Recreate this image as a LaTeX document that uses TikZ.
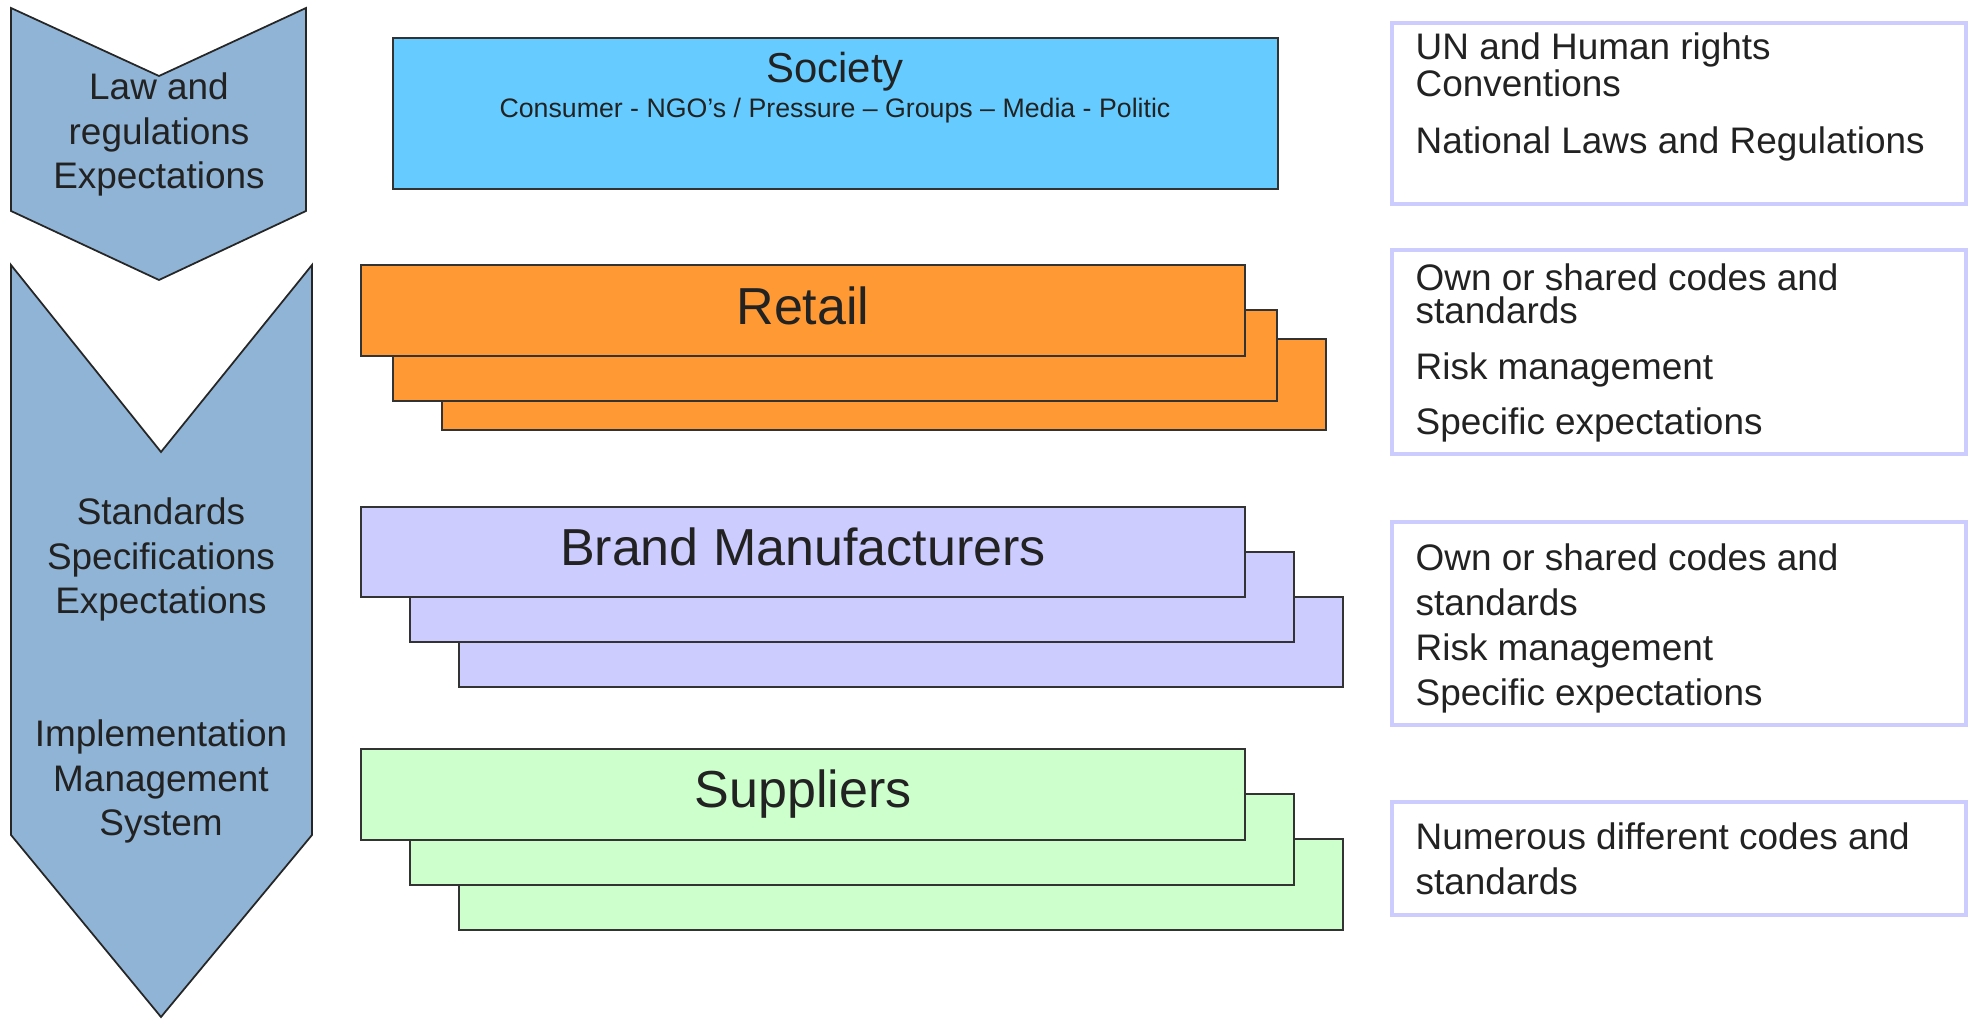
\documentclass[tikz,border=0pt]{standalone}
\usepackage{fontspec}
\setmainfont{Liberation Sans}
\definecolor{chevblue}{RGB}{143,180,214}
\definecolor{societyblue}{RGB}{102,204,255}
\definecolor{retailorange}{RGB}{255,153,51}
\definecolor{brandlilac}{RGB}{204,204,255}
\definecolor{suppliergreen}{RGB}{204,255,204}
\definecolor{textgray}{RGB}{34,34,34}
\tikzset{
    chevron/.style={fill=chevblue,draw=black!85,line width=0.5pt},
    layerbox/.style={draw=black!80,line width=0.6pt},
    notebox/.style={draw=brandlilac,line width=1.3pt},
    chevtext/.style={align=center,anchor=base,inner sep=0pt,text=textgray,
        font=\fontsize{10.5}{12.7}\selectfont},
    titletext/.style={anchor=base,inner sep=0pt,text=textgray,
        font=\fontsize{14.8}{17}\selectfont},
    notetext/.style={align=left,anchor=base west,inner sep=0pt,text=textgray,
        font=\fontsize{10.5}{12.8}\selectfont},
}

\begin{document}
\begin{tikzpicture}[x=0.01cm,y=-0.01cm]
        \useasboundingbox (0,0) rectangle (1971,1019);
        % Chevrons on the left (multi-line texts sit on their last baseline)
        \draw[chevron] (11,8) -- (159,76) -- (306,8) -- (306,211) -- (159,280) -- (11,211) -- cycle;
        \draw[chevron] (11,265) -- (161,452) -- (312,265) -- (312,835) -- (161,1017) -- (11,835) -- cycle;
        \node[chevtext] (law) at (159,189) {Law and\\regulations\\Expectations};
        \node[chevtext] (standards) at (161,614) {Standards\\Specifications\\Expectations};
        \node[chevtext] (implementation) at (161,836) {Implementation\\Management\\System};
        % Society
        \draw[layerbox,fill=societyblue] (393,38) rectangle (1278,189);
        \node[titletext,font=\fontsize{11.9}{14}\selectfont] (society) at (835,83) {Society};
        \node[titletext,font=\fontsize{7.6}{9}\selectfont] (actors) at (835,118)
            {Consumer - NGO’s / Pressure – Groups – Media - Politic};
        % Stacked layers
        \foreach \dx/\dy in {81/74,32/45,0/0} {
            \draw[layerbox,fill=retailorange] (361+\dx,265+\dy) rectangle ++(884,91);
        }
        \foreach \dx/\dy in {98/90,49/45,0/0} {
            \draw[layerbox,fill=brandlilac] (361+\dx,507+\dy) rectangle ++(884,90);
            \draw[layerbox,fill=suppliergreen] (361+\dx,749+\dy) rectangle ++(884,91);
        }
        \node[titletext] (retail) at (803,325) {Retail};
        \node[titletext] (brand) at (803,566) {Brand Manufacturers};
        \node[titletext] (suppliers) at (803,808) {Suppliers};
        % Notes on the right
        \draw[notebox] (1392,23) rectangle (1966,204);
        \draw[notebox] (1392,250) rectangle (1966,454);
        \draw[notebox] (1392,522) rectangle (1966,725);
        \draw[notebox] (1392,802) rectangle (1966,915);
        \node[notetext,font=\fontsize{10.5}{9.4}\selectfont] (un) at (1415,97) {UN and Human rights\\Conventions};
        \node[notetext] (national) at (1415,154) {National Laws and Regulations};
        \node[notetext,font=\fontsize{10.5}{9.4}\selectfont] (retailcodes) at (1415,324) {Own or shared codes and\\standards};
        \node[notetext] (retailrisk) at (1415,380) {Risk management};
        \node[notetext] (retailexp) at (1415,435) {Specific expectations};
        \node[notetext] (brandnotes) at (1415,706)
            {Own or shared codes and\\standards\\Risk management\\Specific expectations};
        \node[notetext] (suppliernotes) at (1415,895) {Numerous different codes and\\standards};
\end{tikzpicture}
\end{document}
